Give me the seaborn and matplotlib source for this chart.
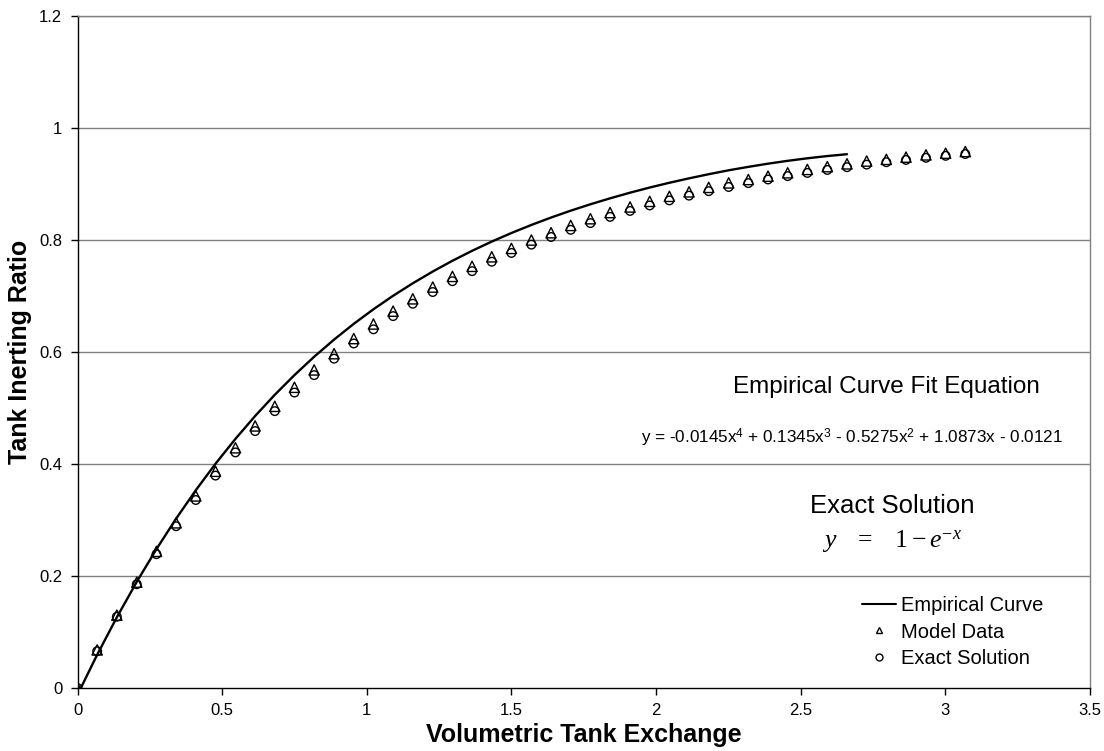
import matplotlib
matplotlib.use("Agg")
import matplotlib.pyplot as plt
import seaborn as sns
import pandas as pd
from matplotlib.lines import Line2D

# ---------------- data ----------------
x_exchange = [0.000, 0.068, 0.136, 0.205, 0.273, 0.341, 0.409, 0.477, 0.546, 0.614,
              0.682, 0.750, 0.818, 0.887, 0.955, 1.023, 1.091, 1.159, 1.228, 1.296,
              1.364, 1.432, 1.500, 1.569, 1.637, 1.705, 1.773, 1.841, 1.910, 1.978,
              2.046, 2.114, 2.182, 2.251, 2.319, 2.387, 2.455, 2.523, 2.592, 2.660,
              2.728, 2.796, 2.864, 2.933, 3.001, 3.069]

exact_solution = [0.0000, 0.0657, 0.1272, 0.1853, 0.2389, 0.2889, 0.3357, 0.3793, 0.4207, 0.4588,
                  0.4944, 0.5276, 0.5587, 0.5881, 0.6152, 0.6405, 0.6641, 0.6862, 0.7071, 0.7264,
                  0.7444, 0.7612, 0.7769, 0.7917, 0.8054, 0.8182, 0.8302, 0.8413, 0.8519, 0.8617,
                  0.8707, 0.8792, 0.8872, 0.8947, 0.9016, 0.9081, 0.9141, 0.9198, 0.9251, 0.9300,
                  0.9346, 0.9389, 0.9430, 0.9468, 0.9503, 0.9535]

model_data = [0.000, 0.068, 0.130, 0.189, 0.244, 0.295, 0.343, 0.387, 0.429, 0.468,
              0.503, 0.537, 0.568, 0.597, 0.624, 0.650, 0.673, 0.695, 0.716, 0.735,
              0.753, 0.770, 0.785, 0.800, 0.813, 0.826, 0.838, 0.849, 0.859, 0.869,
              0.878, 0.886, 0.894, 0.902, 0.908, 0.914, 0.920, 0.926, 0.931, 0.936,
              0.941, 0.944, 0.948, 0.952, 0.955, 0.958]

curve_x = x_exchange[:40]
empirical_curve = [-0.0121, 0.0594, 0.1263, 0.1898, 0.2481, 0.3025, 0.3532, 0.4004, 0.4449, 0.4857,
                   0.5236, 0.5588, 0.5915, 0.6222, 0.6503, 0.6763, 0.7004, 0.7227, 0.7437, 0.7629,
                   0.7807, 0.7972, 0.8125, 0.8269, 0.8401, 0.8524, 0.8638, 0.8744, 0.8845, 0.8937,
                   0.9022, 0.9101, 0.9175, 0.9245, 0.9306, 0.9363, 0.9414, 0.9459, 0.9499, 0.9532]

x_ticks = [0, 0.5, 1, 1.5, 2, 2.5, 3, 3.5]
x_tick_labels = ["0", "0.5", "1", "1.5", "2", "2.5", "3", "3.5"]
y_ticks = [0, 0.2, 0.4, 0.6, 0.8, 1.0, 1.2]
y_tick_labels = ["0", "0.2", "0.4", "0.6", "0.8", "1", "1.2"]

series_labels = ["Empirical Curve", "Model Data", "Exact Solution"]

# ---------------- style ----------------
sns.set_style("white")
plt.rcParams['font.family'] = ['Liberation Sans', 'DejaVu Sans']
plt.rcParams['text.color'] = 'black'
plt.rcParams['axes.labelcolor'] = 'black'
plt.rcParams['xtick.color'] = 'black'
plt.rcParams['ytick.color'] = 'black'
plt.rcParams['mathtext.fontset'] = 'custom'
plt.rcParams['mathtext.rm'] = 'Liberation Serif'
plt.rcParams['mathtext.it'] = 'Liberation Serif:italic'
plt.rcParams['mathtext.sf'] = 'Liberation Sans'

W, H = 1104, 751
fig = plt.figure(figsize=(W / 100, H / 100), dpi=100)
L, R, T, B = 77.5, 1090, 16, 688
ax = fig.add_axes([L / W, 1 - B / H, (R - L) / W, (B - T) / H])

curve_df = pd.DataFrame({"x": curve_x, "y": empirical_curve})
pts_df = pd.DataFrame({"x": x_exchange, "model": model_data, "exact": exact_solution})

sns.lineplot(data=curve_df, x="x", y="y", ax=ax, color="black", linewidth=1.7,
             sort=False, estimator=None, zorder=3)
sns.scatterplot(data=pts_df, x="x", y="model", ax=ax, marker="^", s=55,
                color="black", facecolor="none", edgecolor="black", linewidth=1.0, zorder=4)
sns.scatterplot(data=pts_df, x="x", y="exact", ax=ax, marker="o", s=38,
                color="black", facecolor="none", edgecolor="black", linewidth=1.0, zorder=4)

ax.set_xlim(0, 3.5)
ax.set_ylim(0, 1.2)
ax.set_xticks(x_ticks)
ax.set_xticklabels(x_tick_labels)
ax.set_yticks(y_ticks)
ax.set_yticklabels(y_tick_labels)

ax.grid(False)
for yv in y_ticks[1:]:
    ax.axhline(yv, color="#808080", linewidth=1.0, zorder=1)

for side in ["left", "bottom"]:
    ax.spines[side].set_color("black")
    ax.spines[side].set_linewidth(1.0)
for side in ["top", "right"]:
    ax.spines[side].set_color("#808080")
    ax.spines[side].set_linewidth(1.0)

ax.tick_params(axis="both", direction="out", length=5, width=1.0, color="black",
               labelsize=12, labelcolor="black")
ax.tick_params(axis="x", pad=6, bottom=True)
ax.tick_params(axis="y", pad=6, left=True)

ax.set_xlabel("Volumetric Tank Exchange", fontsize=18, fontweight="bold", color="black")
ax.set_ylabel("Tank Inerting Ratio", fontsize=18, fontweight="bold", color="black")
ax.xaxis.label.set_va("center")
ax.yaxis.label.set_va("center")
ax.xaxis.set_label_coords(0.5, (B - 735) / (B - T))
ax.yaxis.set_label_coords((20 - L) / (R - L), 0.5)

# annotations
ax.text(2.797, 0.5375, "Empirical Curve Fit Equation", fontsize=17.5,
        ha="center", va="center", color="black")
ax.text(2.676, 0.446,
        r"y = -0.0145x$^{\mathsf{4}}$ + 0.1345x$^{\mathsf{3}}$ - 0.5275x$^{\mathsf{2}}$ + 1.0873x - 0.0121",
        fontsize=12.3, ha="center", va="center", color="black")
ax.text(2.815, 0.325, "Exact Solution", fontsize=18.5, ha="center", va="center", color="black")
ax.text(2.815, 0.262, r"$y\ \ \ =\ \ \ 1-e^{-x}$", fontsize=18.5, ha="center", va="center",
        color="black")

handles = [
    Line2D([], [], color="black", linewidth=1.5),
    Line2D([], [], color="black", linestyle="none", marker="^", markersize=5,
           markerfacecolor="none", markeredgewidth=1.0),
    Line2D([], [], color="black", linestyle="none", marker="o", markersize=5,
           markerfacecolor="none", markeredgewidth=1.0),
]
leg = ax.legend(handles, series_labels, loc="center left",
                bbox_to_anchor=(862 / W, 1 - 632 / H), bbox_transform=fig.transFigure,
                frameon=False, fontsize=14.5, handlelength=1.7, handletextpad=0.25,
                borderpad=0, borderaxespad=0, labelspacing=0.35)
for t in leg.get_texts():
    t.set_color("black")

fig.savefig("out.png", dpi=100)
